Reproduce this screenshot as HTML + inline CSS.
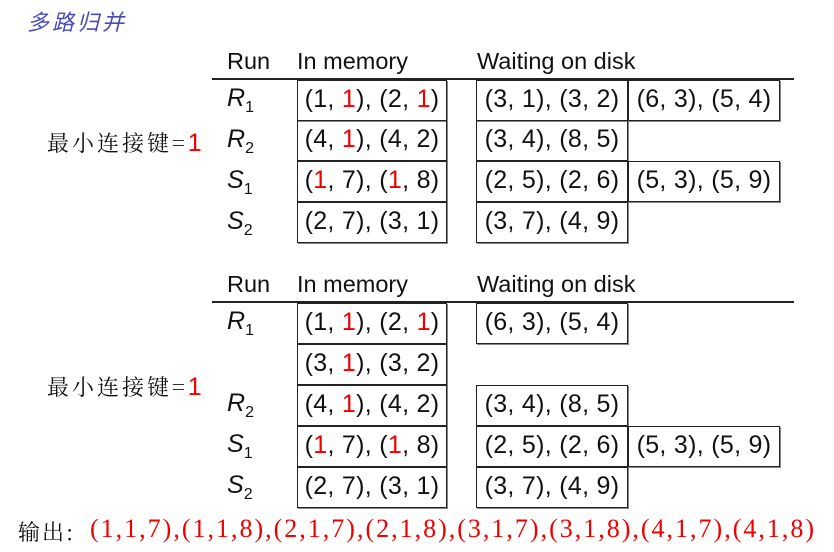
<!DOCTYPE html>
<html><head><meta charset="utf-8"><style>
body{margin:0;width:834px;height:552px;background:#fff;position:relative;overflow:hidden;font-family:"Liberation Sans","Noto Sans CJK SC",sans-serif;color:#111}
.a{position:absolute;white-space:nowrap}
.b{position:absolute;border:1.5px solid #222;box-sizing:border-box;font-size:25px;line-height:37px;text-align:center;white-space:nowrap;box-shadow:1px 1px 0 #888;letter-spacing:0.3px}
.h{font-size:23.5px}
.r{color:#e00}
.rule{position:absolute;height:1.5px;background:#222;left:212px;width:582px}
.lab{font-size:25px;font-style:italic}
.lab sub{font-style:normal;font-size:16px;vertical-align:-6px}
.cj{font-family:"Noto Serif CJK SC","Liberation Serif",serif;font-size:22px;letter-spacing:3px}
</style></head><body>
<div class="a" style="left:27px;top:5px;font-size:22px;letter-spacing:3px;color:#4a4ab8;font-family:'Noto Sans CJK SC',sans-serif;font-style:italic">多路归并</div>

<div class="a h" style="left:227px;top:48px">Run</div>
<div class="a h" style="left:297px;top:48px">In memory</div>
<div class="a h" style="left:477px;top:48px">Waiting on disk</div>
<div class="rule" style="top:78px"></div>
<div class="a lab" style="left:227px;top:84px">R<sub>1</sub></div>
<div class="a lab" style="left:227px;top:125px">R<sub>2</sub></div>
<div class="a lab" style="left:227px;top:166px">S<sub>1</sub></div>
<div class="a lab" style="left:227px;top:207px">S<sub>2</sub></div>
<div class="b" style="left:297px;top:80px;width:150px;height:41px">(1, <span class="r">1</span>), (2, <span class="r">1</span>)</div>
<div class="b" style="left:297px;top:120px;width:150px;height:41px">(4, <span class="r">1</span>), (4, 2)</div>
<div class="b" style="left:297px;top:161px;width:150px;height:41px">(<span class="r">1</span>, 7), (<span class="r">1</span>, 8)</div>
<div class="b" style="left:297px;top:202px;width:150px;height:41px">(2, 7), (3, 1)</div>
<div class="b" style="left:476px;top:80px;width:152px;height:41px">(3, 1), (3, 2)</div>
<div class="b" style="left:628px;top:80px;width:152px;height:41px">(6, 3), (5, 4)</div>
<div class="b" style="left:476px;top:120px;width:152px;height:41px">(3, 4), (8, 5)</div>
<div class="b" style="left:476px;top:161px;width:152px;height:41px">(2, 5), (2, 6)</div>
<div class="b" style="left:628px;top:161px;width:152px;height:41px">(5, 3), (5, 9)</div>
<div class="b" style="left:476px;top:202px;width:152px;height:41px">(3, 7), (4, 9)</div>
<div class="a cj" style="left:47px;top:127px">最小连接键=<span class="r" style="font-family:'Liberation Sans',sans-serif;font-size:25px">1</span></div>

<div class="a h" style="left:227px;top:271px">Run</div>
<div class="a h" style="left:297px;top:271px">In memory</div>
<div class="a h" style="left:477px;top:271px">Waiting on disk</div>
<div class="rule" style="top:301px"></div>
<div class="a lab" style="left:227px;top:307px">R<sub>1</sub></div>
<div class="a lab" style="left:227px;top:389px">R<sub>2</sub></div>
<div class="a lab" style="left:227px;top:430px">S<sub>1</sub></div>
<div class="a lab" style="left:227px;top:471px">S<sub>2</sub></div>
<div class="b" style="left:297px;top:303px;width:150px;height:41px">(1, <span class="r">1</span>), (2, <span class="r">1</span>)</div>
<div class="b" style="left:297px;top:344px;width:150px;height:41px">(3, <span class="r">1</span>), (3, 2)</div>
<div class="b" style="left:297px;top:385px;width:150px;height:41px">(4, <span class="r">1</span>), (4, 2)</div>
<div class="b" style="left:297px;top:426px;width:150px;height:41px">(<span class="r">1</span>, 7), (<span class="r">1</span>, 8)</div>
<div class="b" style="left:297px;top:467px;width:150px;height:41px">(2, 7), (3, 1)</div>
<div class="b" style="left:476px;top:303px;width:152px;height:41px">(6, 3), (5, 4)</div>
<div class="b" style="left:476px;top:385px;width:152px;height:41px">(3, 4), (8, 5)</div>
<div class="b" style="left:476px;top:426px;width:152px;height:41px">(2, 5), (2, 6)</div>
<div class="b" style="left:628px;top:426px;width:152px;height:41px">(5, 3), (5, 9)</div>
<div class="b" style="left:476px;top:467px;width:152px;height:41px">(3, 7), (4, 9)</div>
<div class="a cj" style="left:47px;top:371px">最小连接键=<span class="r" style="font-family:'Liberation Sans',sans-serif;font-size:25px">1</span></div>

<div class="a" style="left:18px;top:516px;font-size:22px"><span class="cj" style="letter-spacing:2px">输出:</span><span class="r" style="position:absolute;left:72px;top:-2px;font-family:'Liberation Serif',serif;font-size:26px;letter-spacing:2px">(1,1,7),(1,1,8),(2,1,7),(2,1,8),(3,1,7),(3,1,8),(4,1,7),(4,1,8)</span></div>
</body></html>
